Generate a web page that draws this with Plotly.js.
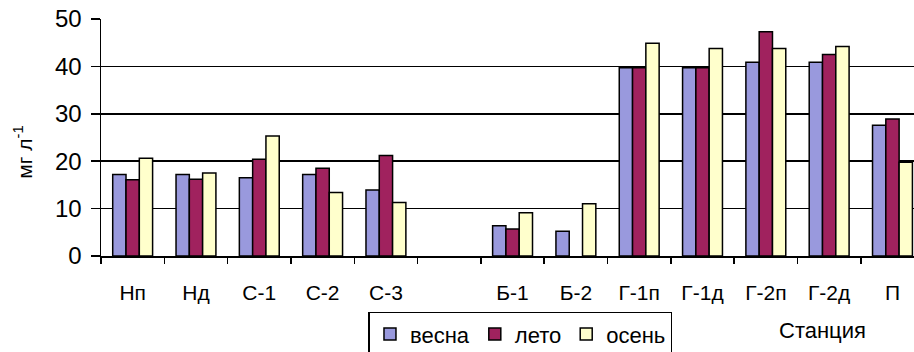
<!DOCTYPE html>
<html>
<head>
<meta charset="utf-8">
<script src="https://cdn.plot.ly/plotly-3.0.1.min.js"></script>
<style>html,body{margin:0;padding:0;background:#fff;}#chart{width:914px;height:352px;}</style>
</head>
<body>
<div id="chart"></div>
<script>
const stations = ['Нп', 'Нд', 'С-1', 'С-2', 'С-3', ' ', 'Б-1', 'Б-2', 'Г-1п', 'Г-1д', 'Г-2п', 'Г-2д', 'П'];
const spring = [17.2, 17.2, 16.5, 17.2, 13.9, null, 6.4, 5.2, 39.7, 39.7, 40.9, 40.9, 27.6];
const summer = [16.1, 16.2, 20.4, 18.5, 21.2, null, 5.7, null, 39.7, 39.7, 47.3, 42.5, 28.9];
const autumn = [20.6, 17.5, 25.3, 13.4, 11.3, null, 9.1, 11.0, 44.9, 43.8, 43.8, 44.2, 19.8];
const seriesNames = ['весна', 'лето', 'осень'];
const seriesColors = ['#9999dd', '#a0225e', '#ffffcc'];
const yTicks = [0, 10, 20, 30, 40, 50];

const FONT = 'Liberation Sans, Arial, sans-serif';
const data = [spring, summer, autumn].map((vals, i) => ({
  type: 'bar',
  name: seriesNames[i],
  x: stations,
  y: vals,
  marker: {color: seriesColors[i], line: {color: '#000', width: 1.5}},
  hoverinfo: 'x+y+name'
}));

const layout = {
  width: 914, height: 352,
  margin: {l: 101, r: 0, t: 19, b: 96, autoexpand: false},
  paper_bgcolor: '#fff', plot_bgcolor: '#fff',
  font: {family: FONT, color: '#000'},
  barmode: 'group', bargap: 0.37, bargroupgap: 0,
  showlegend: true,
  legend: {
    orientation: 'h', x: 0.329, xanchor: 'left', y: -0.235, yanchor: 'top',
    bordercolor: '#000', borderwidth: 1.5, bgcolor: '#fff',
    font: {family: FONT, size: 22, color: '#000'},
    itemwidth: 30, tracegroupgap: 0
  },
  xaxis: {
    type: 'category', categoryorder: 'array', categoryarray: stations,
    range: [-0.5, 12.34],
    showline: true, linecolor: '#000', linewidth: 1.5,
    ticks: 'outside', tickson: 'boundaries', ticklen: 6, tickwidth: 1.5, tickcolor: '#000',
    tickfont: {family: FONT, size: 21, color: '#000'},
    ticklabelstandoff: 17,
    showgrid: false, zeroline: false, fixedrange: true
  },
  yaxis: {
    range: [0, 50], tickvals: yTicks, ticktext: yTicks.map(String),
    showline: true, linecolor: '#000', linewidth: 1.5,
    ticks: 'outside', ticklen: 9, tickwidth: 1.5, tickcolor: '#000',
    tickfont: {family: FONT, size: 24, color: '#000'},
    ticklabelstandoff: 4,
    showgrid: true, gridcolor: '#000', gridwidth: 1.5,
    zeroline: false, fixedrange: true
  },
  annotations: [
    {text: 'мг л<sup>-1</sup>', xref: 'paper', yref: 'paper', x: -0.096, y: 0.44,
     xanchor: 'center', yanchor: 'middle', textangle: -90, showarrow: false,
     font: {family: FONT, size: 21, color: '#000'}},
    {text: 'Станция', xref: 'paper', yref: 'paper', x: 0.888, y: -0.315,
     xanchor: 'center', yanchor: 'middle', showarrow: false,
     font: {family: FONT, size: 22, color: '#000'}}
  ]
};

Plotly.newPlot('chart', data, layout, {displayModeBar: false, staticPlot: true});
</script>
</body>
</html>
